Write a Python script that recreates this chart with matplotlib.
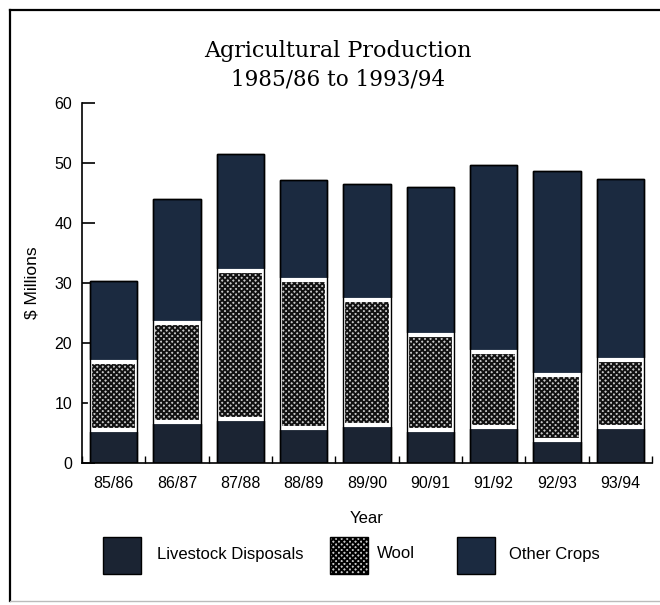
import matplotlib
matplotlib.use("Agg")
import matplotlib.pyplot as plt
from matplotlib.patches import Rectangle
from matplotlib.lines import Line2D
import numpy as np

# Agricultural production by season, $ millions
years = ["85/86", "86/87", "87/88", "88/89", "89/90", "90/91", "91/92", "92/93", "93/94"]
livestock = [5.5, 6.9, 7.4, 5.8, 6.3, 5.5, 6.0, 3.8, 6.0]
wool = [11.3, 16.4, 24.6, 24.7, 20.8, 15.8, 12.5, 10.8, 11.1]
other_crops = [13.5, 20.6, 19.5, 16.7, 19.3, 24.6, 31.2, 34.1, 30.2]
series_names = ["Livestock Disposals", "Wool", "Other Crops"]
y_ticks = [0, 10, 20, 30, 40, 50, 60]

LIVE_C = "#1b2433"
CROP_C = "#1b2a40"
WOOL_BG = "#c8c8c8"
WOOL_HATCH = "xxxxxx"

plt.rcParams["font.family"] = ["Liberation Sans", "DejaVu Sans"]
plt.rcParams["hatch.linewidth"] = 1.4

fig = plt.figure(figsize=(6.6, 6.05), dpi=100)
ax = fig.add_axes([82 / 660, 1 - 463 / 605, 570 / 660, (463 - 102.7) / 605])

x = np.arange(len(years))
w = 0.75
live = np.array(livestock)
wl = np.array(wool)
oc = np.array(other_crops)

ax.bar(x, live, w, color=LIVE_C, edgecolor="black", linewidth=1.0, zorder=2)
# wool: black speckle texture, with a white inner frame
ax.bar(x, wl, w, bottom=live, color=WOOL_BG, edgecolor="#111111", hatch=WOOL_HATCH,
       linewidth=0, zorder=2)
ax.bar(x, wl, w, bottom=live, fill=False, edgecolor="white", linewidth=3.0, zorder=3)
ax.bar(x, oc, w, bottom=live + wl, color=CROP_C, edgecolor="black", linewidth=1.0, zorder=2)
ax.bar(x, live + wl + oc, w, fill=False, edgecolor="black", linewidth=1.0, zorder=4)

ax.set_xlim(-0.5, len(years) - 0.5)
ax.set_ylim(0, 60)
ax.set_yticks(y_ticks)
ax.set_xticks(x)
ax.set_xticklabels(years)
ax.set_xticks(np.arange(len(years) + 1) - 0.5, minor=True)
ax.tick_params(axis="x", which="major", length=0, pad=9, labelsize=11.5)
ax.tick_params(axis="x", which="minor", direction="in", length=5, width=1.0)
ax.tick_params(axis="y", direction="in", length=9.5, width=1.2, pad=7, labelsize=11.5)
for s in ("top", "right"):
    ax.spines[s].set_visible(False)
for s in ("left", "bottom"):
    ax.spines[s].set_linewidth(1.2)

ax.set_ylabel("$ Millions", fontsize=12.5, labelpad=11)
ax.set_xlabel("Year", fontsize=12, labelpad=15)

fig.text(0.512, 1 - 51 / 605, "Agricultural Production", ha="center", va="center",
         family="DejaVu Serif", fontsize=16)
fig.text(0.512, 1 - 80 / 605, "1985/86 to 1993/94", ha="center", va="center",
         family="DejaVu Serif", fontsize=15.5)

# legend swatches
W, H = 660, 605
legend_items = [
    (103, LIVE_C, None, series_names[0], 157),
    (330, WOOL_BG, WOOL_HATCH, series_names[1], 377),
    (457, CROP_C, None, series_names[2], 509),
]
for px, col, hatch, label, tx in legend_items:
    r = Rectangle((px / W, 1 - 574 / H), 38 / W, 37 / H, transform=fig.transFigure,
                  facecolor=col, edgecolor="black", hatch=hatch, linewidth=1.0)
    fig.add_artist(r)
    fig.text(tx / W, 1 - 554 / H, label, ha="left", va="center", fontsize=12)

# outer frame
frame_kw = dict(transform=fig.transFigure, color="black", linewidth=1.6)
fig.add_artist(Line2D([10 / W, 10 / W], [1 - 10 / H, 1 - 601 / H], **frame_kw))
fig.add_artist(Line2D([10 / W, 1.0], [1 - 10 / H, 1 - 10 / H], **frame_kw))
fig.add_artist(Line2D([10 / W, 1.0], [1 - 601 / H, 1 - 601 / H], color="#bbbbbb",
                      linewidth=1.0, transform=fig.transFigure))

fig.savefig("out.png", dpi=100)
